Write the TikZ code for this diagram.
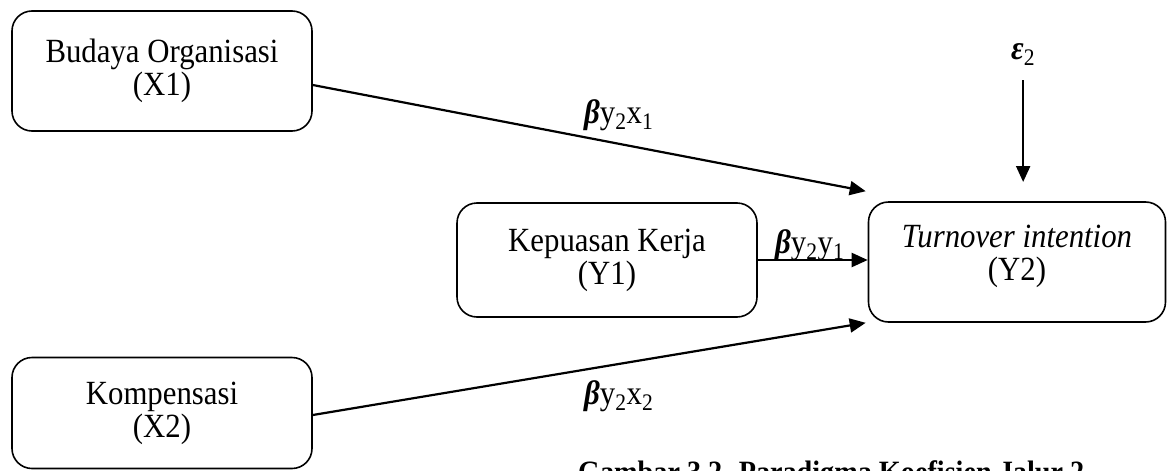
\documentclass[tikz,border=0pt]{standalone}
\usepackage{fontspec}
\usepackage{graphicx}
\setmainfont{Liberation Serif}
\usetikzlibrary{arrows.meta}
% text is drawn slightly taller than wide
\newcommand{\vstretch}[1]{\scalebox{1}[1.1]{#1}}
\newcommand{\twolines}[2]{\vstretch{\vbox{\baselineskip=30pt\lineskiplimit=-100pt
  \halign{\hfil##\hfil\cr#1\cr#2\cr}}}}
\newcommand{\bb}{{\bfseries\itshape β}}
\tikzset{
  varbox/.style={draw, line width=1.6pt, rounded corners=20pt, align=center,
    inner sep=0pt, font=\fontsize{30.8}{29}\selectfont},
  coef/.style={inner sep=0pt, anchor=base west, font=\fontsize{30.8}{32}\selectfont},
  path/.style={line width=2.2pt, -{Triangle[length=16pt,width=14pt]}}
}
\begin{document}
\begin{tikzpicture}[x=1pt,y=-1pt]
  \useasboundingbox (0,0) rectangle (1167,471);
  \clip (0,0) rectangle (1167,471);

  % variable boxes
  \node[varbox, minimum width=300pt, minimum height=120pt] (X1) at (162,71)
    {\twolines{Budaya Organisasi}{(X1)}};
  \node[varbox, minimum width=300pt, minimum height=111pt] (X2) at (162,413)
    {\twolines{Kompensasi}{(X2)}};
  \node[varbox, minimum width=300pt, minimum height=114pt] (Y1) at (607,260)
    {\twolines{Kepuasan Kerja}{(Y1)}};
  \node[varbox, minimum width=297pt, minimum height=120pt] (Y2) at (1017,262)
    {\raisebox{0pt}[\height][\dimexpr\depth+12pt]{\twolines{\itshape Turnover intention}{(Y2)}}};

  % error term
  \node[coef] (eps) at (1011,59) {\vstretch{{\bfseries\itshape ε}\textsubscript{2}}};

  % paths
  \draw[path] ([yshift=-14pt]X1.east) -- ([xshift=-2pt,yshift=10pt]Y2.north west);
  \draw[path] ([yshift=-2pt]X2.east) -- ([xshift=-2pt]Y2.south west);
  \draw[path] (Y1.east) -- (Y1.east -| Y2.west);
  \draw[path] (eps |- 0,80) -- (eps |- 0,182);

  % path coefficients
  \node[coef] (bx1) at (584,123) {\vstretch{\bb y\textsubscript{2}x\textsubscript{1}}};
  \node[coef] (by1) at (775,253) {\vstretch{\bb y\textsubscript{2}y\textsubscript{1}}};
  \node[coef] (bx2) at (584,404) {\vstretch{\bb y\textsubscript{2}x\textsubscript{2}}};

  % caption
  \node[anchor=base west, inner sep=0pt, font=\fontsize{28.2}{30}\selectfont\bfseries] (cap)
    at (578,482) {\vstretch{Gambar 3.2. Paradigma Koefisien Jalur 2}};
\end{tikzpicture}
\end{document}
